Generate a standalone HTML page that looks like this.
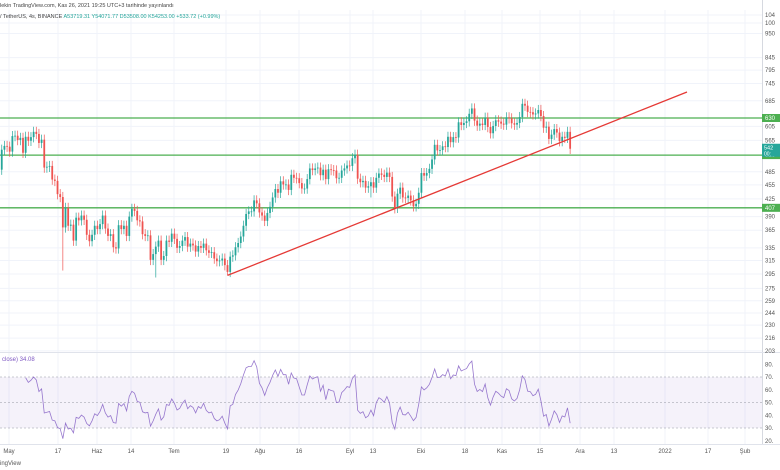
<!DOCTYPE html>
<html><head><meta charset="utf-8">
<style>
body{margin:0;width:780px;height:470px;overflow:hidden;background:#fff;font-family:"Liberation Sans",sans-serif}
svg{display:block}
</style></head>
<body>
<svg id="c" width="780" height="470" xmlns="http://www.w3.org/2000/svg"></svg>
<script>
// daily closes from Apr 25 2021 to Nov 26 2021
const closes=[49000,54000,55000,54800,53500,57700,
57800,56600,57200,53200,57500,56400,57400,58900,58300,55800,56700,49500,49700,49900,46700,46400,43500,42900,37000,40700,37300,37500,34700,38800,38300,39200,38400,35700,34600,35700,37300,
36700,37600,39200,36800,35500,35800,33600,33400,37400,36700,37300,35500,39000,40500,40100,38300,38100,35800,35500,35600,31600,32500,33700,34700,31600,32200,34700,34500,35900,35000,
33500,33800,34700,35300,33700,34200,33900,32900,33800,33500,34200,33100,32700,32800,31800,31400,31500,31800,30800,29800,32100,32300,33600,34300,35400,37300,39500,40000,40000,42200,41600,
39800,39200,38200,39700,40900,42800,44600,43800,46300,45600,45600,44400,47800,47100,47000,45900,44700,44700,46800,49300,48900,49300,49500,47700,49000,46800,49100,48900,48800,47000,47100,
48800,49300,50000,49900,51800,52700,46900,46100,46400,44900,45200,46100,44900,47100,48100,47800,47300,48300,47300,43000,40700,43600,44900,42800,42700,43200,42200,41000,41500,43800,
48200,47600,48200,49200,51500,55300,53800,53900,54900,54700,57500,56000,57400,57300,61700,60900,61500,62000,64300,66000,62200,60700,61300,60900,63100,60300,58500,60600,62300,61900,61300,
61000,63200,62900,61400,61000,61500,63300,67500,66900,64900,64800,64100,64400,65500,63600,60100,60400,56900,58100,59700,58700,56300,57500,57200,58900,54250];
const lowOverrides={24:30000,59:29000,86:29300,140:42800,149:39600};
const priceTicks=[104000,100000,95000,84500,79500,74500,68500,60500,56500,48500,45500,42500,39000,36500,33500,31500,29500,27500,25900,24400,23000,21600,20300];
const levels=[63000,52600,40700];
const rsiTicks=[80,70,60,50,40,30,20];
const xLabels=["May","17","Haz","14","Tem","19","Ağu","16","Eyl","13","Eki","18","Kas","15","Ara","13","2022","17","Şub"];
const xLabelPos=[9,58,97,131,174,226,260,299,350,373,421,465,502,540,580,614,665,708,745];
const trend=[[29300,86],[71500,259]];

const NS="http://www.w3.org/2000/svg",svg=document.getElementById('c');
function el(t,a,p){const e=document.createElementNS(NS,t);for(const k in a)e.setAttribute(k,a[k]);(p||svg).appendChild(e);return e;}
const xD=i=>-0.9+i*2.656;
const yP=p=>118+205.6*Math.log(63000/p);
const yR=v=>402.5-(v-50)*1.275;

for(const x of xLabelPos){const g=el('line',{x1:x,x2:x,y1:10,y2:444,stroke:'#f0f3fa'});}
for(const p of priceTicks){const g=el('line',{x1:0,x2:762,y1:yP(p),y2:yP(p),stroke:'#f0f3fa'});}
el('line',{x1:762.5,x2:762.5,y1:0,y2:444,stroke:'#d6d9e0'});
el('line',{x1:0,x2:780,y1:352.5,y2:352.5,stroke:'#e0e3eb'});
el('line',{x1:0,x2:780,y1:444.5,y2:444.5,stroke:'#e0e3eb'});

for(const p of priceTicks){const t=el('text',{x:765,y:yP(p)+2,'font-size':6,fill:'#555'});t.textContent=String(p).slice(0,3);}

levels.forEach((p,k)=>{const l=el('line',{x1:0,x2:762,y1:yP(p),y2:yP(p),stroke:'#4caf50','stroke-width':1.3});
const r=el('rect',{x:762,y:yP(p)-4,width:18,height:8,fill:'#4caf50'});
const t=el('text',{x:765,y:yP(p)+2,'font-size':6,fill:'#fff'});t.textContent=String(p).slice(0,3);});

closes.forEach((c,i)=>{const o=i?closes[i-1]:48500;const up=c>=o;const col=up?'#26a69a':'#ef5350';
const hi=Math.max(o,c)*1.025;const lo=lowOverrides[i]||Math.min(o,c)*0.975;const x=xD(i);
const w=el('line',{x1:x,x2:x,y1:yP(hi),y2:yP(lo),stroke:col,'stroke-width':0.7});
const y1=yP(Math.max(o,c)),y2=yP(Math.min(o,c));
const b=el('rect',{x:x-0.9,y:y1,width:1.8,height:Math.max(0.8,y2-y1),fill:col});});

const tl=el('line',{x1:xD(trend[0][1]),y1:yP(trend[0][0]),x2:xD(trend[1][1]),y2:yP(trend[1][0]),stroke:'#e53935','stroke-width':1.3});

const last=closes[closes.length-1];
const cp=el('rect',{x:762,y:yP(last)-5,width:18,height:13,fill:'#26a69a'});
const cpt=el('text',{x:764,y:yP(last)+1,'font-size':5.5,fill:'#fff'});cpt.textContent=String(last).slice(0,3);
const cpt2=el('text',{x:764,y:yP(last)+7,'font-size':5,fill:'#fff'});cpt2.textContent='00:';

const band=el('rect',{x:0,y:yR(70),width:762,height:yR(30)-yR(70),fill:'#7e57c2','fill-opacity':0.08});
[70,50,30].forEach(v=>{const l=el('line',{x1:0,x2:762,y1:yR(v),y2:yR(v),stroke:'#9598a1','stroke-dasharray':'2,2','stroke-width':0.6});});
for(const v of rsiTicks){const t=el('text',{x:765,y:yR(v)+2,'font-size':6,fill:'#555'});t.textContent=v+'.';}
const N=10;let ag=0,al=0;const rsi=[];
for(let i=1;i<closes.length;i++){const d=closes[i]-closes[i-1];const g=Math.max(d,0),l=Math.max(-d,0);
if(i<=N){ag+=g/N;al+=l/N;}else{ag=(ag*(N-1)+g)/N;al=(al*(N-1)+l)/N;}
if(i>=N)rsi.push([i,al===0?100:100-100/(1+ag/al)]);}
const pl=el('polyline',{points:rsi.map(([i,v])=>xD(i)+','+Math.min(442,Math.max(354,yR(v)))).join(' '),fill:'none',stroke:'#7e57c2','stroke-opacity':0.8,'stroke-width':0.8});
const rl=el('text',{x:2,y:361,'font-size':6,fill:'#7e57c2'});rl.textContent='close) 34.08';

xLabels.forEach((s,k)=>{const t=el('text',{x:xLabelPos[k],y:453,'font-size':6,fill:'#555','text-anchor':'middle'});t.textContent=s;});
const tv=el('text',{x:0,y:465,'font-size':6,fill:'#555'});tv.textContent='ingView';

const h1=el('text',{x:0,y:7,'font-size':5.5,fill:'#444'});h1.textContent='lekin TradingView.com, Kas 26, 2021 19:25 UTC+3 tarihinde yayınlandı';
const h2=el('text',{x:0,y:18,'font-size':5.5,fill:'#444'});
h2.innerHTML='/ TetherUS, 4s, BINANCE <tspan fill="#26a69a">A53719.31 Y54071.77 D53508.00 K54253.00 +533.72 (+0.99%)</tspan>';
</script>
</body></html>
